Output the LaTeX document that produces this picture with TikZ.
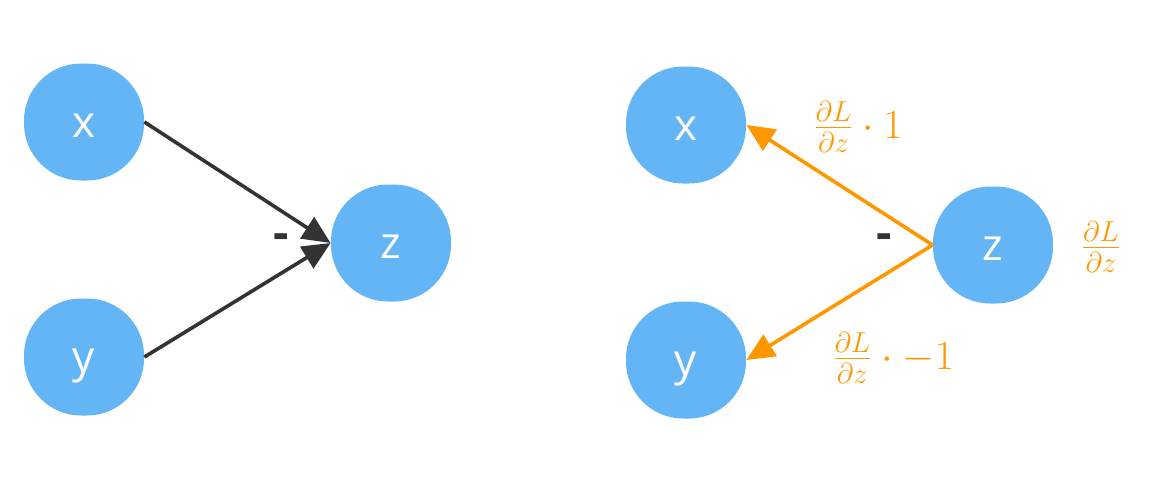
\documentclass[tikz,border=0pt]{standalone}
\usepackage{fontspec}
\setsansfont{Open Sans}
\usetikzlibrary{arrows.meta}
\definecolor{nodeblue}{HTML}{64B5F6}
\definecolor{gradorange}{HTML}{FF9800}
\definecolor{darkline}{HTML}{333333}
\begin{document}
\begin{tikzpicture}[x=0.5pt,y=-0.5pt,
  var/.style={fill=nodeblue, draw=none, rectangle, rounded corners=28.5pt,
    minimum width=60pt, minimum height=58.5pt, inner sep=0pt,
    text height=15.5pt, text depth=0pt,
    text=white, font=\sffamily\fontsize{22}{26}\selectfont},
  fwd/.style={draw=darkline, line width=1.8pt, -{Triangle[length=14pt,width=12.5pt]}},
  bwd/.style={draw=gradorange, line width=1.8pt, -{Triangle[length=14pt,width=12.5pt]}},
  oplabel/.style={text=darkline, font=\sffamily\bfseries\fontsize{24}{28}\selectfont, inner sep=0pt},
  gradlabel/.style={text=gradorange, font=\fontsize{21}{25}\selectfont, inner sep=0pt}]
\useasboundingbox (0,0) rectangle (1168,482);
% forward graph
\node[var] (x1) at (84,122) {x};
\node[var] (y1) at (84,357) {y};
\node[var] (z1) at (391,243) {z};
\draw[fwd] (x1.east) -- (z1.west);
\draw[fwd] (y1.east) -- (z1.west);
\node[oplabel] (m1) at (281,242) {-};
% backward graph
\node[var] (x2) at (686,125) {x};
\node[var] (y2) at (686,360) {y};
\node[var] (z2) at (993,245) {z};
\draw[bwd] (z2.west) -- (x2.east);
\draw[bwd] (z2.west) -- (y2.east);
\node[oplabel] (m2) at (884,242) {-};
\node[gradlabel] (gx) at (858,127) {$\frac{\partial L}{\partial z}\cdot 1$};
\node[gradlabel] (gz) at (1101,247) {$\frac{\partial L}{\partial z}$};
\node[gradlabel] (gy) at (893,358) {$\frac{\partial L}{\partial z}\cdot -1$};
\end{tikzpicture}
\end{document}
